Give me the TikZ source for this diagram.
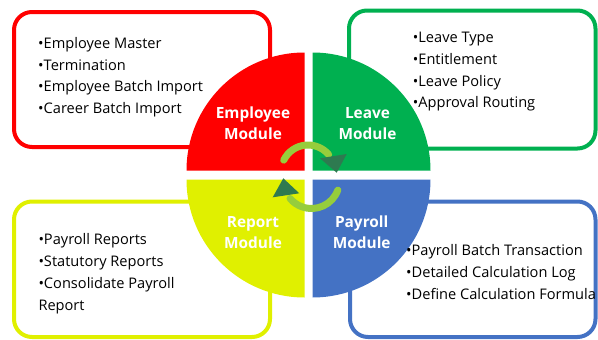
\documentclass[tikz,border=0pt]{standalone}
\usepackage{fontspec}
\setmainfont{Open Sans}
\definecolor{cred}{RGB}{255,0,0}
\definecolor{cgreen}{RGB}{0,176,80}
\definecolor{cyellow}{RGB}{224,240,0}
\definecolor{cblue}{RGB}{68,114,196}
\definecolor{clight}{RGB}{150,205,60}
\definecolor{cdark}{RGB}{46,122,80}
\begin{document}
\begin{tikzpicture}[x=1pt,y=-1pt,
  box/.style={line width=4pt, rounded corners=18pt, fill=white},
  item/.style={anchor=base west, inner sep=0pt, font=\fontsize{14.6}{18}\selectfont},
  modlabel/.style={anchor=base, inner sep=0pt, text=white, font=\fontsize{15.4}{20}\selectfont\bfseries},
  cyc/.style={draw=clight, line width=7pt, line cap=round},
  head/.style={fill=cdark, draw=none}]
\useasboundingbox (0,0) rectangle (598,340);
% boxes
\draw[box, draw=cred] (14,12) rectangle (270,147);
\draw[box, draw=cgreen] (349,10.5) rectangle (595.5,148.5);
\draw[box, draw=cyellow] (14,201.5) rectangle (270,337);
\draw[box, draw=cblue] (350,201.5) rectangle (595.5,337);
% quadrants
\fill[cred] (304.5,170.5) -- ++(-118,0) arc[start angle=180, end angle=270, radius=118] -- cycle;
\fill[cgreen] (312.5,170.5) -- ++(0,-118) arc[start angle=270, end angle=360, radius=118] -- cycle;
\fill[cyellow] (304.5,179.5) -- ++(-118,0) arc[start angle=180, end angle=90, radius=118] -- cycle;
\fill[cblue] (312.5,179.5) -- ++(118,0) arc[start angle=0, end angle=90, radius=118] -- cycle;
% module labels
\node[modlabel] (emp1) at (253,118.3) {Employee};
\node[modlabel] (emp2) at (253,139.6) {Module};
\node[modlabel] (lea1) at (367.5,118.3) {Leave};
\node[modlabel] (lea2) at (367.5,139.6) {Module};
\node[modlabel] (rep1) at (253,227.3) {Report};
\node[modlabel] (rep2) at (253,248.6) {Module};
\node[modlabel] (pay1) at (361.7,227.3) {Payroll};
\node[modlabel] (pay2) at (361.7,248.6) {Module};
% cycle arrows
\draw[cyc] (308,172) ++(206:27) arc[start angle=206, end angle=320, radius=27];
\coordinate (ta) at (320,158.3);
\coordinate (tb) at (346.7,154);
\coordinate (tc) at (336.7,172.7);
\fill[head] (ta) -- (tb) -- (tc) -- cycle;
\draw[cyc] (311.5,180.5) ++(20:28) arc[start angle=20, end angle=140, radius=28];
\coordinate (ba) at (299.3,193.3);
\coordinate (bb) at (272.7,197.3);
\coordinate (bc) at (283.3,178.3);
\fill[head] (ba) -- (bb) -- (bc) -- cycle;
% texts
\node[item] (e1) at (38,48.3) {\textbullet Employee Master};
\node[item] (e2) at (38,70) {\textbullet Termination};
\node[item] (e3) at (38,91.7) {\textbullet Employee Batch Import};
\node[item] (e4) at (38,113.3) {\textbullet Career Batch Import};
\node[item] (l1) at (412.7,42.5) {\textbullet Leave Type};
\node[item] (l2) at (412.7,64.3) {\textbullet Entitlement};
\node[item] (l3) at (412.7,86.1) {\textbullet Leave Policy};
\node[item] (l4) at (412.7,107.9) {\textbullet Approval Routing};
\node[item] (r1) at (38.3,244.5) {\textbullet Payroll Reports};
\node[item] (r2) at (38.3,266) {\textbullet Statutory Reports};
\node[item] (r3) at (38.3,288.5) {\textbullet Consolidate Payroll};
\node[item] (r4) at (38.3,310) {Report};
\node[item] (p1) at (406,255) {\textbullet Payroll Batch Transaction};
\node[item] (p2) at (406,277) {\textbullet Detailed Calculation Log};
\node[item] (p3) at (406,299) {\textbullet Define Calculation Formula};
\end{tikzpicture}
\end{document}
